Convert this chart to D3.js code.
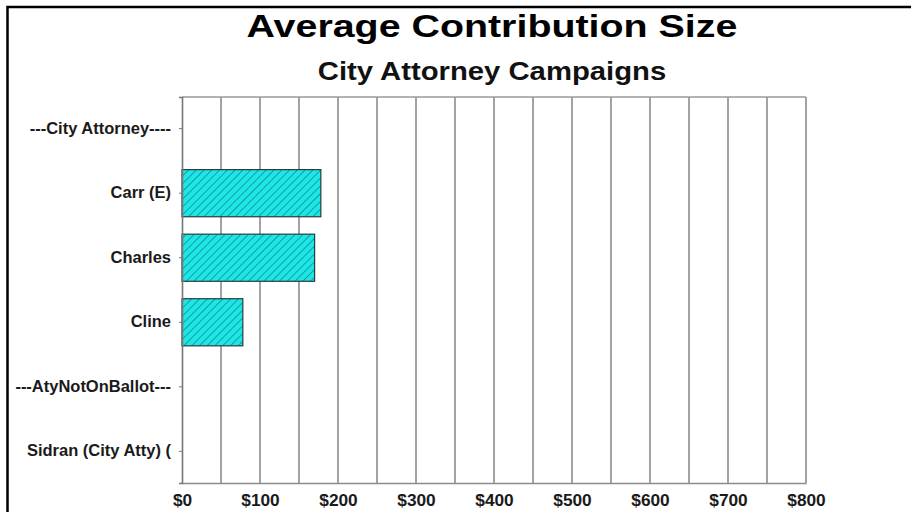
<!DOCTYPE html>
<html>
<head>
<meta charset="utf-8">
<script src="https://cdn.jsdelivr.net/npm/d3@7"></script>
<style>
  body { margin: 0; background: #fff; }
  text { font-family: "Liberation Sans", Arial, sans-serif; }
</style>
</head>
<body>
<div id="chart"></div>
<script>
// data
const categories = ['---City Attorney----', 'Carr (E)', 'Charles', 'Cline', '---AtyNotOnBallot---', 'Sidran (City Atty) (']
const avgContribution = [null, 178, 170, 78, null, null]
const tickValues = [0, 100, 200, 300, 400, 500, 600, 700, 800]
const gridValues = [50, 100, 150, 200, 250, 300, 350, 400, 450, 500, 550, 600, 650, 700, 750, 800]

const W = 911, H = 512
const margin = { top: 97, right: 105, bottom: 29, left: 182 }

const svg = d3.select('#chart').append('svg')
  .attr('width', W)
  .attr('height', H)

// hatch pattern for the bars
const defs = svg.append('defs')
const pat = defs.append('pattern')
  .attr('id', 'hatch')
  .attr('patternUnits', 'userSpaceOnUse')
  .attr('width', 5.5)
  .attr('height', 5.5)
  .attr('patternTransform', 'rotate(45)')
pat.append('rect').attr('width', 5.5).attr('height', 5.5).attr('fill', '#1fe6e6')
pat.append('line').attr('x1', 0).attr('y1', 0).attr('x2', 0).attr('y2', 5.5)
  .attr('stroke', '#0f9a9a').attr('stroke-width', 1.8)

// outer frame (cut off at right and bottom)
svg.append('rect')
  .attr('x', 7.5).attr('y', 7)
  .attr('width', W + 20).attr('height', H + 20)
  .attr('fill', 'none').attr('stroke', '#000').attr('stroke-width', 2.5)

const x = d3.scaleLinear().domain([0, 800]).range([margin.left, W - margin.right])
const y = d3.scaleBand().domain(categories)
  .range([margin.top, H - margin.bottom])
  .paddingInner(0.27).paddingOuter(0.125)

// grid lines
svg.append('g').selectAll('line')
  .data(gridValues)
  .join('line')
  .attr('x1', d => x(d)).attr('x2', d => x(d))
  .attr('y1', margin.top).attr('y2', H - margin.bottom)
  .attr('stroke', '#8c8c8c').attr('stroke-width', 1.6)

// top border of the plot
svg.append('line')
  .attr('x1', x(0)).attr('x2', x(800))
  .attr('y1', margin.top).attr('y2', margin.top)
  .attr('stroke', '#9a9a9a').attr('stroke-width', 1.5)

// bars
const rows = categories.map((c, i) => ({ cat: c, v: avgContribution[i] })).filter(d => d.v != null)
svg.append('g').selectAll('rect')
  .data(rows)
  .join('rect')
  .attr('x', x(0))
  .attr('y', d => y(d.cat))
  .attr('width', d => x(d.v) - x(0))
  .attr('height', y.bandwidth())
  .attr('fill', 'url(#hatch)')
  .attr('stroke', '#2b3b3b').attr('stroke-width', 1.2)

// x axis
const xAxis = svg.append('g')
  .attr('transform', `translate(0,${H - margin.bottom})`)
  .call(d3.axisBottom(x).tickValues(tickValues).tickFormat(d => '$' + d).tickSize(0).tickPadding(12))
xAxis.select('.domain').attr('stroke', '#8c8c8c').attr('stroke-width', 1.6)
xAxis.selectAll('text')
  .style('font-size', '16px').style('font-weight', 'bold').attr('fill', '#1a1a1a')

// y axis
const yAxis = svg.append('g')
  .attr('transform', `translate(${margin.left},0)`)
  .call(d3.axisLeft(y).tickSize(3).tickPadding(8))
yAxis.select('.domain').attr('stroke', '#777').attr('stroke-width', 1.6)
yAxis.selectAll('.tick line').attr('stroke', '#777')
yAxis.selectAll('text')
  .style('font-size', '16px').style('font-weight', 'bold').attr('fill', '#1a1a1a')

// titles
svg.append('text')
  .attr('class', 'title')
  .attr('x', 492).attr('y', 37)
  .attr('text-anchor', 'middle')
  .style('font-size', '31px').style('font-weight', 'bold')
  .text('Average Contribution Size')

svg.append('text')
  .attr('class', 'subtitle')
  .attr('x', 492).attr('y', 80)
  .attr('text-anchor', 'middle')
  .style('font-size', '25px').style('font-weight', 'bold').attr('fill', '#111')
  .text('City Attorney Campaigns')

// the original text is a bit wider than the font, stretch it sideways
function stretch(sel, k) {
  sel.each(function () {
    const len = this.getComputedTextLength()
    d3.select(this).attr('textLength', len * k).attr('lengthAdjust', 'spacingAndGlyphs')
  })
}
stretch(svg.select('.title'), 1.27)
stretch(svg.select('.subtitle'), 1.17)
stretch(yAxis.selectAll('text'), 1.03)
stretch(xAxis.selectAll('text'), 1.08)
</script>
</body>
</html>
